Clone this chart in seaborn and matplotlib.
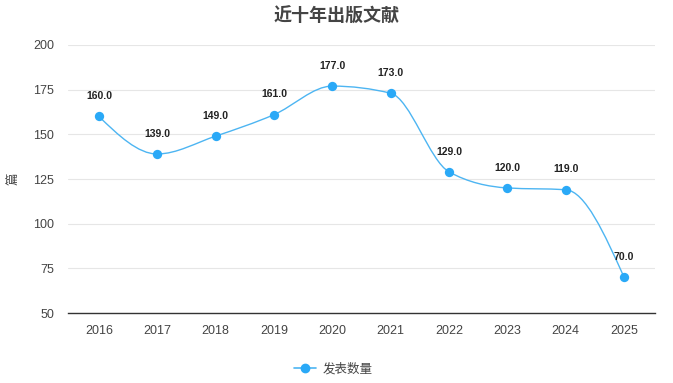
import numpy as np
import pandas as pd
import matplotlib
matplotlib.use("Agg")
import matplotlib.pyplot as plt
from matplotlib.path import Path
from matplotlib.patches import PathPatch
from matplotlib.lines import Line2D
import seaborn as sns

# Daten
years = ["2016", "2017", "2018", "2019", "2020", "2021", "2022", "2023", "2024", "2025"]
counts = [160, 139, 149, 161, 177, 173, 129, 120, 119, 70]
series_name = "发表数量"
title = "近十年出版文献"
y_label = "篇"
y_ticks = [50, 75, 100, 125, 150, 175, 200]

df = pd.DataFrame({"year": years, "count": counts})

sns.set_style("white")
plt.rcParams['font.family'] = ['Liberation Sans', 'Noto Sans CJK SC', 'DejaVu Sans']

line_color = "#4db5f2"
marker_color = "#2aa9f7"

fig = plt.figure(figsize=(6.73, 3.83), dpi=100)
W, H = 673, 383
ax = fig.add_axes([68 / W, (H - 313) / H, (655 - 68) / W, (313 - 45) / H])

# Punkte (seaborn)
sns.scatterplot(data=df, x="year", y="count", ax=ax, color=marker_color, s=45,
                edgecolor=marker_color, linewidth=0, zorder=4, legend=False)

ax.set_xlim(-0.53, len(years) - 0.47)
ax.set_ylim(50, 200)

# Geglättete Linie: monotone Bezier-Kurve durch die Datenpunkte (nur Darstellung)
xs = np.arange(len(counts), dtype=float)
ys = np.array(counts, dtype=float)
n = len(xs)
sec = np.diff(ys)  # Abstand in x ist 1
tan = np.zeros(n)
for i in range(1, n - 1):
    s0, s1 = sec[i - 1], sec[i]
    p = (s0 + s1) / 2
    tan[i] = (np.sign(s0) + np.sign(s1)) * min(abs(s0), abs(s1), 0.5 * abs(p))
tan[0] = (3 * sec[0] - tan[1]) / 2
tan[-1] = (3 * sec[-1] - tan[-2]) / 2

verts = [(xs[0], ys[0])]
codes = [Path.MOVETO]
for i in range(n - 1):
    verts += [(xs[i] + 1 / 3, ys[i] + tan[i] / 3),
              (xs[i + 1] - 1 / 3, ys[i + 1] - tan[i + 1] / 3),
              (xs[i + 1], ys[i + 1])]
    codes += [Path.CURVE4] * 3
ax.add_patch(PathPatch(Path(verts, codes), facecolor="none", edgecolor=line_color,
                       lw=1.0, zorder=3))

# Datenbeschriftungen
for i, v in enumerate(counts):
    ax.annotate(f"{v:.1f}", (i, v), xytext=(0, 11), textcoords="offset points",
                ha="center", va="bottom", fontsize=7.5, fontweight="bold", color="#222222")

# Achsen
ax.set_yticks(y_ticks)
ax.yaxis.grid(True, color="#e6e6e6", lw=0.8)
ax.set_axisbelow(True)
for s in ["top", "right", "left"]:
    ax.spines[s].set_visible(False)
ax.spines["bottom"].set_color("#333333")
ax.spines["bottom"].set_linewidth(1.0)
ax.tick_params(axis="both", length=0, labelsize=9, colors="#444444", pad=10)
ax.tick_params(axis="x", pad=9)
ax.set_xlabel("")
ax.set_ylabel(y_label, fontsize=9, color="#444444", labelpad=10)

fig.text(0.5, (H - 17) / H, title, ha="center", va="center", fontsize=13,
         fontweight="bold", color="#444444")

handle = Line2D([], [], color=line_color, lw=1.2, marker="o", markersize=6,
                markerfacecolor=marker_color, markeredgecolor=marker_color)
fig.legend([handle], [series_name], loc="center", bbox_to_anchor=(333 / W, (H - 369) / H),
           frameon=False, fontsize=9, handlelength=1.8, handletextpad=0.5,
           labelcolor="#444444")

fig.savefig("out.png", dpi=100)
